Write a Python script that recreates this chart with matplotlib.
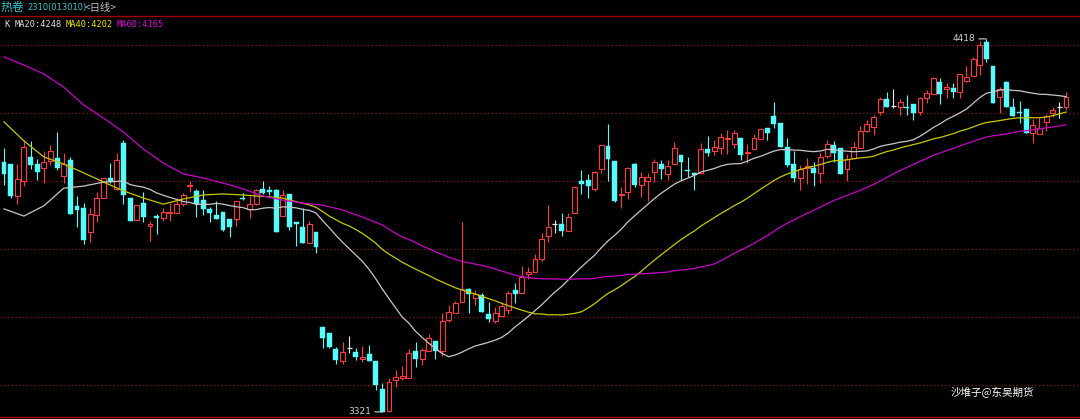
import numpy as np
import pandas as pd
import matplotlib
matplotlib.use("Agg")
import matplotlib.pyplot as plt
from matplotlib.lines import Line2D

# 日K线 OHLC
opens = [4055, 4050, 3957, 4001, 4071, 4050, 4037, 4059, 4067, 4016,
         4061, 3928, 3921, 3851, 3901, 3951, 4008, 3976, 4113, 3951,
         3885, 3934, 3868, 3898, 3890, 3905, 3907, 3931, 3985, 3971,
         3944, 3918, 3900, 3910, 3888, 3887, 3951, 3917, 3932, 3978,
         3975, 3973, 3898, 3961, 3880, 3864, 3819, 3849, 3570, 3554,
         3506, 3471, 3510, 3498, 3478, 3490, 3471, 3388, 3325, 3415,
         3420, 3420, 3500, 3478, 3501, 3529, 3501, 3591, 3611, 3645,
         3681, 3655, 3665, 3609, 3588, 3604, 3621, 3680, 3670, 3728,
         3733, 3770, 3838, 3873, 3873, 3854, 3907, 4000, 4003, 3976,
         4034, 4104, 4059, 3958, 3969, 4050, 3988, 4001, 4027, 4050,
         4020, 4049, 4078, 4032, 4023, 4023, 4093, 4088, 4096, 4123,
         4108, 4128, 4083, 4094, 4123, 4157, 4191, 4170, 4099, 4050,
         4010, 4039, 4039, 4023, 4074, 4106, 4096, 4034, 4067, 4096,
         4147, 4158, 4204, 4240, 4222, 4217, 4219, 4228, 4204, 4243,
         4255, 4290, 4270, 4275, 4261, 4294, 4310, 4341, 4410, 4339,
         4248, 4290, 4219, 4204, 4211, 4142, 4138, 4174, 4199, 4219,
         4219]
highs = [4096, 4050, 4050, 4120, 4117, 4066, 4088, 4106, 4143, 4081,
         4071, 3957, 3934, 3920, 3969, 4013, 4054, 4081, 4121, 3951,
         3929, 3969, 3882, 3902, 3921, 3934, 3949, 3966, 4000, 3978,
         3975, 3924, 3941, 3910, 3888, 3941, 3966, 3957, 3978, 4000,
         3985, 3978, 3975, 3961, 3880, 3920, 3882, 3849, 3572, 3554,
         3513, 3527, 3545, 3508, 3515, 3517, 3471, 3405, 3420, 3444,
         3457, 3505, 3526, 3508, 3549, 3529, 3611, 3635, 3647, 3880,
         3684, 3680, 3672, 3645, 3630, 3643, 3678, 3701, 3750, 3748,
         3784, 3846, 3929, 3885, 3905, 3905, 3985, 4032, 4020, 4030,
         4106, 4168, 4059, 3981, 4040, 4052, 4026, 4023, 4065, 4062,
         4062, 4116, 4078, 4072, 4028, 4113, 4132, 4121, 4140, 4150,
         4150, 4128, 4108, 4138, 4157, 4157, 4233, 4170, 4128, 4089,
         4047, 4067, 4055, 4083, 4121, 4118, 4096, 4079, 4114, 4162,
         4179, 4194, 4248, 4263, 4270, 4241, 4253, 4228, 4248, 4268,
         4307, 4304, 4289, 4289, 4315, 4338, 4364, 4413, 4418, 4339,
         4277, 4295, 4243, 4235, 4211, 4181, 4184, 4197, 4218, 4233,
         4263]
lows = [3988, 3949, 3932, 3985, 4035, 4003, 3993, 4047, 4032, 3993,
        3904, 3864, 3816, 3822, 3880, 3951, 3993, 3973, 3932, 3883,
        3885, 3880, 3824, 3844, 3883, 3883, 3905, 3926, 3969, 3893,
        3900, 3880, 3887, 3853, 3836, 3868, 3944, 3890, 3929, 3962,
        3959, 3849, 3898, 3856, 3810, 3819, 3819, 3789, 3508, 3508,
        3462, 3462, 3493, 3473, 3469, 3472, 3385, 3321, 3322, 3393,
        3415, 3420, 3454, 3459, 3501, 3478, 3486, 3586, 3611, 3645,
        3613, 3635, 3614, 3586, 3581, 3604, 3608, 3640, 3670, 3711,
        3733, 3766, 3822, 3848, 3839, 3854, 3905, 3962, 3949, 3972,
        4025, 4001, 3939, 3922, 3946, 3983, 3954, 3942, 3998, 4005,
        4003, 4049, 4003, 4013, 3974, 4023, 4074, 4076, 4079, 4079,
        4096, 4062, 4052, 4094, 4123, 4121, 4155, 4099, 4042, 3998,
        3975, 3991, 3985, 3993, 4067, 4057, 4020, 4001, 4067, 4096,
        4145, 4135, 4194, 4217, 4216, 4194, 4194, 4179, 4194, 4230,
        4255, 4228, 4243, 4243, 4243, 4292, 4310, 4312, 4351, 4230,
        4199, 4219, 4191, 4171, 4140, 4111, 4138, 4148, 4189, 4186,
        4209]
closes = [4020, 3956, 4005, 4100, 4047, 4027, 4056, 4087, 4037, 4049,
          3904, 3915, 3827, 3902, 3951, 4008, 3998, 4062, 3959, 3883,
          3929, 3895, 3873, 3890, 3908, 3909, 3932, 3959, 3988, 3932,
          3917, 3905, 3887, 3856, 3864, 3941, 3946, 3932, 3973, 3966,
          3969, 3849, 3959, 3864, 3875, 3819, 3873, 3805, 3539, 3513,
          3475, 3498, 3510, 3483, 3483, 3472, 3400, 3322, 3408, 3423,
          3427, 3493, 3478, 3503, 3537, 3500, 3588, 3614, 3640, 3681,
          3668, 3668, 3614, 3594, 3611, 3633, 3670, 3667, 3719, 3731,
          3770, 3829, 3864, 3873, 3853, 3893, 3983, 3991, 3986, 4026,
          4106, 4064, 3942, 3961, 4037, 3988, 4011, 4011, 4055, 4035,
          4044, 4096, 4055, 4029, 4018, 4093, 4081, 4101, 4130, 4125,
          4140, 4076, 4086, 4128, 4153, 4140, 4168, 4099, 4047, 4010,
          4034, 4044, 4024, 4072, 4109, 4083, 4020, 4064, 4099, 4147,
          4167, 4189, 4240, 4217, 4222, 4231, 4216, 4199, 4245, 4258,
          4302, 4255, 4277, 4261, 4315, 4305, 4358, 4400, 4359, 4230,
          4270, 4219, 4191, 4199, 4140, 4165, 4155, 4191, 4209, 4219,
          4246]

# 窗口之前的均线值（图中最左段读取）
ma20_head_idx = [0, 3, 6, 9, 12, 15, 18]
ma20_head = [3918, 3897, 3927, 3979, 3985, 3997, 4000]
ma40_head_idx = [0, 3, 6, 9, 12, 15, 18, 21, 24, 27, 30, 33, 36, 38]
ma40_head = [4174, 4118, 4071, 4050, 4024, 3997, 3971, 3950, 3932, 3947,
             3959, 3962, 3959, 3956]
ma60_head_idx = list(range(0, 58, 3))
ma60_head = [4365, 4341, 4315, 4276, 4224, 4185, 4144, 4094, 4053, 4021,
             4009, 3994, 3977, 3956, 3944, 3935, 3929, 3915, 3894, 3871]

ma_labels = ["MA20:4248", "MA40:4202", "MA60:4165"]
grid_levels = [3400, 3600, 3800, 4000, 4200, 4400]

o = np.array(opens, float)
h = np.array(highs, float)
l = np.array(lows, float)
c = np.array(closes, float)
n = len(c)
x = np.arange(n)

W, H = 1080, 419
fig = plt.figure(figsize=(W / 100, H / 100), dpi=100, facecolor="black")
ax = fig.add_axes([0, 0, 1, 1])
ax.set_facecolor("black")
ax.axis("off")
ax.set_xlim(-0.6026, 162.11)
ax.set_ylim(3300.1, 4532.4)

for lv in grid_levels:
    ax.axhline(lv, color="#8a1414", ls=(0, (1, 2)), lw=0.9, zorder=0)

RED = "#ff3a3a"
CYAN = "#54fcfc"
bw = 0.74

up = c > o
dn = c < o
flat = c == o
colors = np.where(up, RED, np.where(dn, CYAN, "#e8e8e8"))
ax.vlines(x, l, h, colors=colors, lw=0.8, zorder=2)

body_lo = np.minimum(o, c)
body_h = np.maximum(np.abs(c - o), 2.5)
ax.bar(x[up], body_h[up], bottom=body_lo[up], width=bw, facecolor="black",
       edgecolor=RED, linewidth=0.8, zorder=3)
ax.bar(x[dn], body_h[dn], bottom=body_lo[dn], width=bw, facecolor=CYAN,
       edgecolor=CYAN, linewidth=0.3, zorder=3)
ax.hlines(c[flat], x[flat] - bw / 2, x[flat] + bw / 2, colors="#e8e8e8",
          lw=0.9, zorder=3)

# 均线
cs = pd.Series(c)
for per, hidx, hval, col in [(20, ma20_head_idx, ma20_head, "#c8c8c8"),
                             (40, ma40_head_idx, ma40_head, "#c8c800"),
                             (60, ma60_head_idx, ma60_head, "#c800c8")]:
    ma = cs.rolling(per).mean()
    xs = list(hidx) + list(range(per - 1, n))
    ys = list(hval) + list(ma.iloc[per - 1:])
    ax.plot(xs, ys, color=col, lw=0.9, zorder=4)

# 最高/最低标注
ih = int(np.argmax(h))
il = int(np.argmin(l))
for idx, val in [(ih, h[ih]), (il, l[il])]:
    ax.annotate(f"{int(val)}", xy=(idx, val), xytext=(-11, 0),
                textcoords="offset pixels", ha="right", va="center",
                color="#d0d0d0", fontsize=6.5, family="DejaVu Sans",
                arrowprops=dict(arrowstyle="-", color="#d0d0d0", lw=0.8,
                                shrinkA=0.5, shrinkB=0))

# 顶部/底部分隔线
for yp in (16.5, 416.5):
    fig.add_artist(Line2D([0, 1], [1 - yp / H] * 2, transform=fig.transFigure,
                          color="#a00000", lw=1.0))

cjk = ["Noto Sans CJK SC", "DejaVu Sans"]
ty = 1 - 7.5 / H
fig.text(1 / W, ty, "热卷", color="#2fc4cf", fontsize=8.6, family=cjk,
         va="center", ha="left")
fig.text(27 / W, ty, "2310(013010)", color="#2fc4cf", fontsize=6.0,
         family="DejaVu Sans", va="center", ha="left")
fig.text(85 / W, ty, "<日线>", color="#bcbcbc", fontsize=7.4, family=cjk,
         va="center", ha="left")

mono = "DejaVu Sans Mono"
ly = 1 - 24.5 / H
fig.text(4 / W, ly, "K", color="#e0e0e0", fontsize=6.2, family=mono, va="center")
for xp, lab, col in zip([15, 66, 117], ma_labels,
                        ["#e0e0e0", "#e6e600", "#e000e0"]):
    fig.text(xp / W, ly, lab, color=col, fontsize=6.2, family=mono, va="center")

fig.text(951 / W, 1 - 393 / H, "沙堆子@东吴期货", color="white",
         fontsize=7.6, family=cjk, va="center", ha="left")

fig.savefig("out.png", dpi=100, facecolor="black")
